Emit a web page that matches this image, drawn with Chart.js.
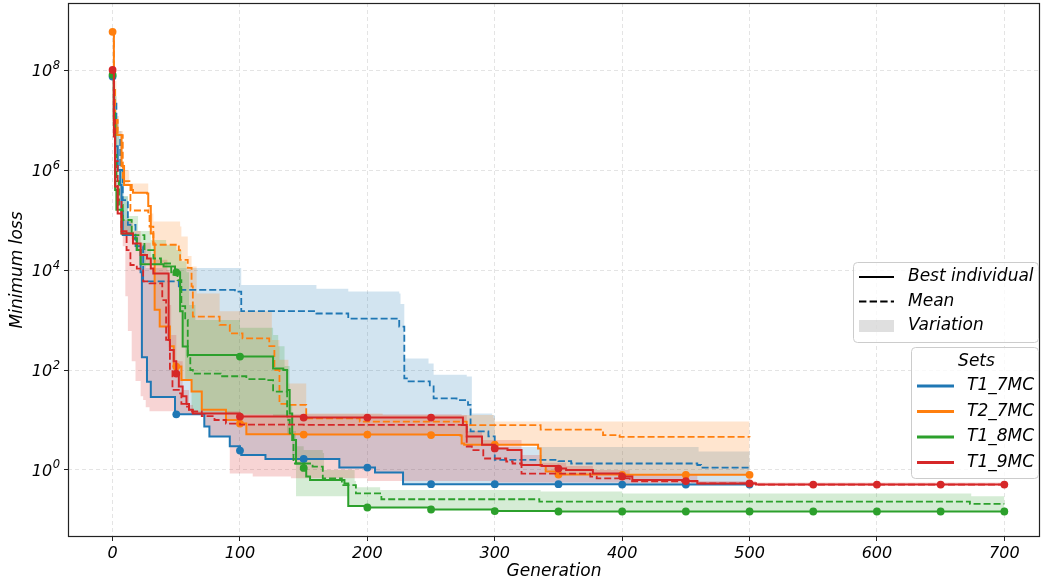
<!DOCTYPE html>
<html>
<head>
<meta charset="utf-8">
<script src="https://cdn.jsdelivr.net/npm/chart.js@4.4.1/dist/chart.umd.min.js"></script>
<style>
  html, body { margin: 0; padding: 0; background: #fff; }
  #wrap { width: 1042px; height: 587px; }
</style>
</head>
<body>
<div id="wrap"><canvas id="lossChart"></canvas></div>
<script>
// [generation, loss] pairs - each step holds its value until the next pair

// T1_7MC
const t17Best = [[0, 7.4e7], [1, 1.2e7], [2, 3e6], [4, 1e6], [6, 5e5], [7, 1.5e5], [8, 5e4], [16, 4.2e4], [19, 2.5e4],
  [22, 9e3], [23, 180], [27, 58], [30, 29], [49, 13], [50, 13], [72, 7.4], [76, 4.7], [92, 3.0], [100, 2.45], [101, 2.0],
  [120, 1.66], [150, 1.66], [178, 1.12], [200, 1.12], [206, 0.89], [228, 0.52], [250, 0.52], [300, 0.52], [350, 0.52],
  [400, 0.51], [450, 0.51], [500, 0.51]];
const t17Mean = [[0, 7.4e7], [1, 2.5e7], [3, 5e6], [6, 1e6], [8, 2.5e5], [12, 8e4], [18, 3e4], [24, 5.9e3], [52, 4e3],
  [96, 3.7e3], [101, 1.5e3], [160, 1.35e3], [185, 1.07e3], [225, 740], [229, 68], [231, 59], [249, 47], [252, 27],
  [270, 25], [279, 20], [281, 5.9], [295, 4.7], [300, 1.6], [350, 1.5], [360, 1.35], [459, 1.26], [462, 1.12], [500, 1.12]];
const t17Upper = [[0, 8e7], [1, 3e7], [3, 1e7], [5, 6e6], [7, 1e6], [9, 3e5], [12, 1e5], [15, 5e4], [20, 3.2e4],
  [26, 1.1e4], [101, 5e3], [160, 4.2e3], [185, 3.7e3], [225, 3.4e3], [226, 2.1e3], [229, 170], [248, 135], [252, 80],
  [278, 74], [282, 13.5], [298, 12.6], [300, 2.9], [460, 2.35], [500, 2.35]];

// T2_7MC
const t27Best = [[0, 5.8e8], [1, 1e7], [3, 5e6], [7, 1.2e6], [9, 5e5], [15, 4e5], [16, 3.5e5], [27, 3.4e5], [28, 1.9e5],
  [30, 5.4e4], [32, 3.4e4], [33, 1.6e3], [37, 740], [45, 300], [48, 120], [50, 117], [54, 63], [62, 37], [70, 16],
  [89, 10], [100, 8.5], [105, 5.2], [150, 5.1], [200, 5.1], [250, 5.0], [273, 4.9], [274, 3.4], [276, 3.2], [300, 3.2],
  [334, 2.7], [336, 1.2], [340, 0.93], [348, 0.81], [350, 0.81], [400, 0.8], [450, 0.8], [500, 0.8]];
const t27Mean = [[0, 5.8e8], [1, 4e7], [2, 1e7], [4, 5e6], [8, 6e5], [14, 1.55e5], [28, 1.35e5], [29, 7.4e4], [32, 3.2e4],
  [52, 2.5e4], [53, 1.6e4], [59, 1.1e4], [62, 4.7e3], [63, 1.17e3], [84, 800], [92, 540], [102, 430], [123, 300],
  [127, 100], [131, 21], [139, 20], [152, 10.8], [194, 9.3], [278, 7.9], [336, 6.4], [385, 5.0], [398, 4.6], [500, 4.5]];
const t27Upper = [[0, 6e8], [1, 6e7], [3, 1.2e7], [5, 6e6], [8, 1.5e6], [9, 1e6], [13, 5.4e5], [28, 1.35e5], [32, 9.3e4],
  [53, 7.4e4], [54, 4.7e4], [59, 1.9e4], [62, 1.17e4], [66, 3.4e3], [84, 1.5e3], [125, 400], [131, 160], [138, 54],
  [152, 13.5], [212, 12.6], [299, 10.8], [300, 9.3], [500, 9.3]];

// T1_8MC
const t18Best = [[0, 8e7], [1, 8e6], [2, 4e5], [3, 1.6e5], [7, 5.4e4], [16, 4.3e4], [19, 2.5e4], [22, 1.3e4], [40, 1.17e4],
  [49, 9e3], [50, 9e3], [53, 1.5e3], [55, 295], [59, 200], [100, 186], [118, 186], [126, 107], [134, 100], [137, 40],
  [139, 13.5], [141, 4], [144, 1.35], [150, 1.1], [152, 0.74], [155, 0.63], [182, 0.54], [185, 0.19], [200, 0.178],
  [250, 0.162], [300, 0.151], [350, 0.148], [400, 0.148], [450, 0.148], [500, 0.148], [550, 0.148], [600, 0.148],
  [650, 0.148], [700, 0.148]];
const t18Mean = [[0, 8e7], [1, 1.5e7], [2, 2e6], [3, 6e5], [5, 2e5], [8, 1e5], [15, 5e4], [25, 2.5e4], [32, 1.7e4],
  [38, 1.35e4], [46, 8e3], [51, 6.3e3], [54, 1.9e3], [57, 1e3], [59, 186], [61, 100], [63, 85], [85, 75], [105, 66],
  [121, 63], [126, 37], [137, 10], [139, 5.4], [142, 1.35], [157, 1.17], [165, 0.68], [180, 0.5], [191, 0.34],
  [211, 0.26], [335, 0.234], [673, 0.21], [700, 0.21]];
const t18Upper = [[0, 8e7], [1, 3e7], [3, 5e6], [5, 1e6], [8, 3e5], [12, 1.2e5], [20, 6e4], [30, 4e4], [42, 3.2e4],
  [50, 2.5e4], [54, 1.5e4], [58, 9e3], [60, 2e3], [65, 1e3], [100, 700], [126, 500], [130, 300], [135, 120], [139, 20],
  [141, 6], [144, 3], [150, 2.5], [165, 2.2], [166, 1], [190, 0.6], [191, 0.45], [210, 0.4], [336, 0.37], [400, 0.34],
  [673, 0.34], [674, 0.30], [700, 0.30]];
const t18Lower = [[0, 8e7], [1, 8e6], [2, 4e5], [3, 1.6e5], [7, 5.4e4], [16, 4.3e4], [19, 2.5e4], [22, 1.3e4], [40, 1.17e4],
  [49, 9e3], [53, 1.5e3], [55, 300], [57, 60], [62, 13], [126, 12], [137, 5], [141, 2], [144, 0.3], [185, 0.19],
  [200, 0.178], [250, 0.162], [300, 0.151], [350, 0.148], [700, 0.148]];

// T1_9MC
const t19Best = [[0, 1e8], [1, 4.7e6], [2, 4.7e5], [4, 1.35e5], [7, 5.4e4], [16, 3.4e4], [22, 2e4], [27, 1.7e4],
  [30, 1.07e4], [32, 8.5e3], [43, 8.5e3], [44, 400], [45, 250], [48, 150], [50, 85], [52, 47], [55, 30], [58, 21],
  [60, 16], [63, 13.5], [100, 11.7], [150, 11.2], [200, 11.2], [250, 11.2], [274, 11.2], [275, 7.9], [278, 4.7],
  [290, 3.2], [300, 2.7], [310, 2.5], [321, 1.26], [337, 1.2], [350, 1.07], [356, 1.0], [377, 0.85], [400, 0.74],
  [408, 0.63], [450, 0.6], [459, 0.54], [500, 0.54], [505, 0.51], [550, 0.51], [600, 0.51], [650, 0.51], [700, 0.51]];
const t19Mean = [[0, 1e8], [1, 1e7], [2, 1.5e6], [4, 2.5e5], [7, 6e4], [11, 2.5e4], [14, 1.26e4], [19, 1.07e4],
  [24, 5.9e3], [29, 5.4e3], [39, 2.5e3], [42, 400], [45, 100], [47, 40], [52, 34], [54, 21], [57, 18.6], [60, 14.8],
  [70, 12], [80, 10], [89, 8.5], [100, 8.1], [150, 8], [274, 7.9], [278, 2.95], [282, 2.5], [291, 1.7], [309, 1.48],
  [314, 1.35], [321, 0.85], [375, 0.74], [380, 0.68], [406, 0.59], [459, 0.54], [505, 0.51], [700, 0.51]];
const t19Upper = [[0, 1.1e8], [1, 1.5e7], [2, 3e6], [4, 5e5], [7, 1e5], [16, 6e4], [22, 3.5e4], [30, 1.6e4], [43, 1e4],
  [44, 2e3], [46, 500], [50, 150], [55, 40], [60, 20], [63, 15], [100, 13], [274, 12.5], [278, 6], [290, 4], [321, 2],
  [337, 1.4], [356, 1.2], [377, 1.0], [406, 0.8], [459, 0.6], [505, 0.56], [700, 0.56]];
const t19Lower = [[0, 9e7], [1, 2e6], [3, 2e5], [6, 6e4], [8, 3e4], [10, 3e3], [12, 600], [15, 150], [18, 60], [22, 30],
  [24, 25], [26, 18], [29, 15], [50, 13], [72, 7.4], [76, 4.7], [92, 0.85], [110, 0.74], [140, 0.68], [200, 0.6],
  [300, 0.56], [400, 0.54], [459, 0.52], [505, 0.51], [700, 0.51]];

const setNames = ['T1_7MC', 'T2_7MC', 'T1_8MC', 'T1_9MC'];
const setColors = ['#1f77b4', '#ff7f0e', '#2ca02c', '#d62728'];
const genTicks = [0, 100, 200, 300, 400, 500, 600, 700];
const lossTicks = [1, 1e2, 1e4, 1e6, 1e8];

// best run's curve doubles as the band floor where they coincide
const sets = [
  { best: t17Best, mean: t17Mean, upper: t17Upper, lower: t17Best },
  { best: t27Best, mean: t27Mean, upper: t27Upper, lower: t27Best },
  { best: t18Best, mean: t18Mean, upper: t18Upper, lower: t18Lower },
  { best: t19Best, mean: t19Mean, upper: t19Upper, lower: t19Lower }
];

const FONT = 'DejaVu Sans';

function pts(arr) {
  return arr.map(p => ({ x: p[0], y: p[1] }));
}

function fade(hex, a) {
  const n = parseInt(hex.slice(1), 16);
  return 'rgba(' + (n >> 16) + ',' + ((n >> 8) & 255) + ',' + (n & 255) + ',' + a + ')';
}

const datasets = [];

// shaded variation bands first
sets.forEach(function(s, k) {
  const lowIdx = datasets.length;
  datasets.push({
    data: pts(s.lower), stepped: true, borderWidth: 0, borderColor: 'transparent',
    pointRadius: 0, fill: false, order: 30 - k
  });
  datasets.push({
    data: pts(s.upper), stepped: true, borderWidth: 0, borderColor: 'transparent',
    backgroundColor: fade(setColors[k], 0.2), pointRadius: 0,
    fill: { target: lowIdx }, order: 30 - k
  });
});

// mean (dashed) and best individual (solid, dot every 50 generations)
sets.forEach(function(s, k) {
  const col = setColors[k];
  datasets.push({
    data: pts(s.mean), stepped: true, borderColor: col, borderWidth: 1.8,
    borderDash: [7, 3], pointRadius: 0, fill: false, order: 20 - 2 * k
  });
  datasets.push({
    data: pts(s.best), stepped: true, borderColor: col, borderWidth: 2,
    pointBackgroundColor: col, pointBorderWidth: 0,
    pointRadius: function(c) { return c.raw && c.raw.x % 50 === 0 ? 3.9 : 0; },
    fill: false, order: 19 - 2 * k
  });
});

function roundBox(ctx, x, y, w, h, r) {
  ctx.beginPath();
  ctx.moveTo(x + r, y);
  ctx.lineTo(x + w - r, y);
  ctx.quadraticCurveTo(x + w, y, x + w, y + r);
  ctx.lineTo(x + w, y + h - r);
  ctx.quadraticCurveTo(x + w, y + h, x + w - r, y + h);
  ctx.lineTo(x + r, y + h);
  ctx.quadraticCurveTo(x, y + h, x, y + h - r);
  ctx.lineTo(x, y + r);
  ctx.quadraticCurveTo(x, y, x + r, y);
  ctx.closePath();
  ctx.fillStyle = 'rgba(255,255,255,0.8)';
  ctx.fill();
  ctx.strokeStyle = '#cccccc';
  ctx.lineWidth = 1;
  ctx.stroke();
}

// log tick labels as 10 with a raised exponent
const powerLabels = {
  id: 'powerLabels',
  afterDraw(chart) {
    const ctx = chart.ctx;
    const ys = chart.scales.y;
    const right = ys.right - 8;
    ctx.save();
    ctx.fillStyle = '#000';
    ctx.textAlign = 'right';
    ctx.textBaseline = 'alphabetic';
    lossTicks.forEach(function(v) {
      const py = ys.getPixelForValue(v);
      const exp = String(Math.round(Math.log10(v)));
      ctx.font = 'italic 11.5px "' + FONT + '"';
      const w = ctx.measureText(exp).width;
      ctx.fillText(exp, right, py - 1.5);
      ctx.font = 'italic 16px "' + FONT + '"';
      ctx.fillText('10', right - w - 0.5, py + 6);
    });
    ctx.restore();
  }
};

// axes frame plus the two legend boxes
const framePlugin = {
  id: 'frameAndLegends',
  afterDraw(chart) {
    const ctx = chart.ctx;
    const a = chart.chartArea;
    ctx.save();
    ctx.strokeStyle = '#222';
    ctx.lineWidth = 1.2;
    ctx.strokeRect(a.left + 0.5, a.top + 0.5, a.right - a.left - 1, a.bottom - a.top - 1);

    ctx.font = 'italic 17px "' + FONT + '"';
    ctx.textBaseline = 'middle';
    ctx.textAlign = 'left';

    // line style legend
    roundBox(ctx, 853.5, 262.5, 185, 80, 4);
    ctx.strokeStyle = '#000';
    ctx.lineWidth = 2.2;
    ctx.beginPath(); ctx.moveTo(859, 277); ctx.lineTo(894, 277); ctx.stroke();
    ctx.setLineDash([7.4, 3.2]);
    ctx.beginPath(); ctx.moveTo(859, 301.5); ctx.lineTo(894, 301.5); ctx.stroke();
    ctx.setLineDash([]);
    ctx.fillStyle = 'rgba(128,128,128,0.25)';
    ctx.fillRect(859, 320, 35, 12);
    ctx.fillStyle = '#000';
    ctx.fillText('Best individual', 908, 277);
    ctx.fillText('Mean', 908, 301.5);
    ctx.fillText('Variation', 908, 326);

    // sets legend
    roundBox(ctx, 911.5, 347.5, 127, 131, 4);
    ctx.fillStyle = '#000';
    ctx.textAlign = 'center';
    ctx.fillText('Sets', 976.5, 362);
    ctx.textAlign = 'left';
    const rows = [386, 411.5, 437, 462.5];
    setNames.forEach(function(name, k) {
      ctx.strokeStyle = setColors[k];
      ctx.lineWidth = 3;
      ctx.beginPath(); ctx.moveTo(917, rows[k]); ctx.lineTo(954, rows[k]); ctx.stroke();
      ctx.fillStyle = '#000';
      ctx.fillText(name, 967, rows[k]);
    });
    ctx.restore();
  }
};

new Chart(document.getElementById('lossChart'), {
  type: 'line',
  data: { datasets: datasets },
  options: {
    responsive: true,
    maintainAspectRatio: false,
    animation: false,
    events: [],
    layout: { autoPadding: false, padding: { top: 3, right: 2, left: 0, bottom: 0 } },
    plugins: {
      legend: { display: false },
      tooltip: { enabled: false }
    },
    scales: {
      x: {
        type: 'linear',
        min: -35,
        max: 728,
        afterBuildTicks: function(scale) {
          scale.ticks = genTicks.map(v => ({ value: v }));
        },
        afterFit: function(scale) {
          scale.height = 50;
          scale.paddingLeft = 0;
          scale.paddingRight = 0;
        },
        ticks: {
          color: '#000',
          padding: 3,
          maxRotation: 0,
          font: { family: FONT, size: 16, style: 'italic' }
        },
        grid: { color: '#dddddd', lineWidth: 0.8, tickColor: '#222', tickLength: 4, tickWidth: 1 },
        border: { display: false, dash: [4, 3] },
        title: {
          display: true,
          text: 'Generation',
          color: '#000',
          padding: { top: 0, bottom: 5 },
          font: { family: FONT, size: 17, style: 'italic' }
        }
      },
      y: {
        type: 'logarithmic',
        min: 0.0457,
        max: 2.19e9,
        afterBuildTicks: function(scale) {
          scale.ticks = lossTicks.map(v => ({ value: v }));
        },
        afterFit: function(scale) {
          scale.width = 68;
          scale.paddingTop = 0;
          scale.paddingBottom = 0;
        },
        ticks: { display: false },
        grid: { color: '#dddddd', lineWidth: 0.8, tickColor: '#222', tickLength: 4, tickWidth: 1 },
        border: { display: false, dash: [4, 3] },
        title: {
          display: true,
          text: 'Minimum loss',
          color: '#000',
          padding: { top: 7, bottom: 0 },
          font: { family: FONT, size: 17, style: 'italic' }
        }
      }
    }
  },
  plugins: [powerLabels, framePlugin]
});
</script>
</body>
</html>
